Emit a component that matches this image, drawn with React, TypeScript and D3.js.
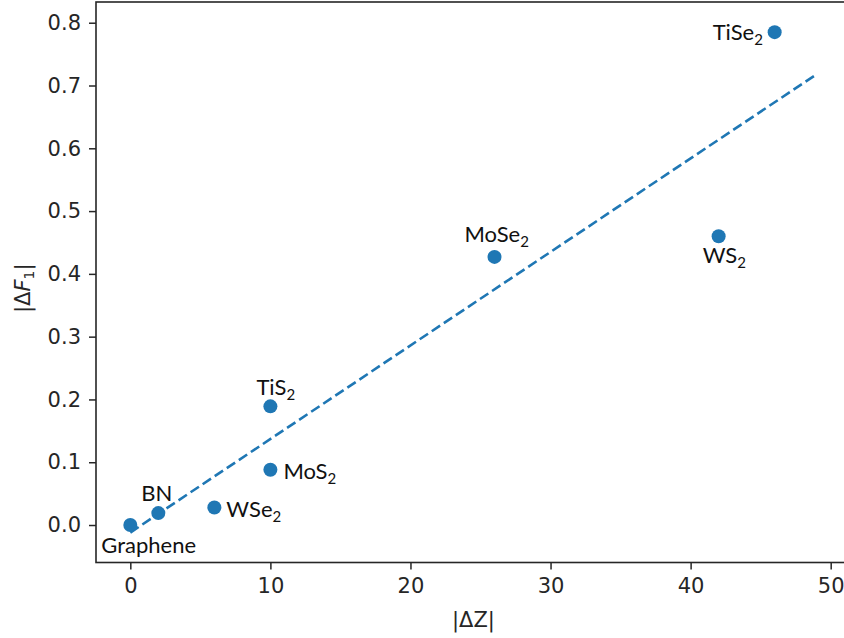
import React, { useEffect, useRef } from "react";
import * as d3 from "d3";

// Materials, |ΔZ| and |ΔF1|
const materials = ["Graphene", "BN", "WSe", "TiS", "MoS", "MoSe", "WS", "TiSe"];
const subscripts = ["", "", "2", "2", "2", "2", "2", "2"];
const deltaZ = [0, 2, 6, 10, 10, 26, 42, 46];
const deltaF1 = [0, 0.019, 0.028, 0.189, 0.088, 0.427, 0.46, 0.785];

// Dashed fit line end points
const fitX = [0, 49];
const fitY = [-0.012, 0.718];

const xTicks = [0, 10, 20, 30, 40, 50];
const yTicks = [0, 0.1, 0.2, 0.3, 0.4, 0.5, 0.6, 0.7, 0.8];

// label placement relative to each dot (px)
const labelOffsets: [number, number][] = [
  [-29, 28],
  [-17, -12],
  [12, 10],
  [-14, -11],
  [13, 9],
  [-30, -15],
  [-16, 27],
  [-62, 8],
];

const App = () => {
  const ref = useRef<SVGSVGElement>(null);

  useEffect(() => {
    const svg = d3.select(ref.current);
    svg.selectAll("*").remove();

    const left = 96,
      right = 851,
      top = 2,
      bottom = 562.5;

    const x = d3.scaleLinear().domain([-2.45, 51.45]).range([left, right]);
    const y = d3.scaleLinear().domain([-0.0597, 0.833]).range([bottom, top]);

    const color = "#1f77b4";
    const axisColor = "#262626";
    const tickFont = "DejaVu Sans, sans-serif";

    // frame
    svg
      .append("rect")
      .attr("x", left)
      .attr("y", top)
      .attr("width", right - left)
      .attr("height", bottom - top)
      .attr("fill", "none")
      .attr("stroke", axisColor)
      .attr("stroke-width", 1.6);

    // X axis
    const gx = svg
      .append("g")
      .attr("transform", `translate(0, ${bottom})`)
      .call(
        d3
          .axisBottom(x)
          .tickValues(xTicks)
          .tickFormat(d3.format("d"))
          .tickSizeOuter(0)
          .tickSize(7)
          .tickPadding(8.5)
      );
    gx.select(".domain").remove();
    gx.selectAll("line").attr("stroke", axisColor).attr("stroke-width", 1.5);
    gx.selectAll("text")
      .attr("fill", axisColor)
      .style("font-family", tickFont)
      .style("font-size", "21px");

    // Y axis
    const gy = svg
      .append("g")
      .attr("transform", `translate(${left}, 0)`)
      .call(
        d3
          .axisLeft(y)
          .tickValues(yTicks)
          .tickFormat(d3.format(".1f"))
          .tickSizeOuter(0)
          .tickSize(7)
          .tickPadding(8)
      );
    gy.select(".domain").remove();
    gy.selectAll("line").attr("stroke", axisColor).attr("stroke-width", 1.5);
    gy.selectAll("text")
      .attr("fill", axisColor)
      .style("font-family", tickFont)
      .style("font-size", "21px");

    // fit line
    const fit = fitX.map((v, i) => [v, fitY[i]] as [number, number]);
    svg
      .append("path")
      .datum(fit)
      .attr("d", d3.line<[number, number]>().x((d) => x(d[0])).y((d) => y(d[1])))
      .attr("fill", "none")
      .attr("stroke", color)
      .attr("stroke-width", 2.6)
      .attr("stroke-dasharray", "10,4.5");

    // points
    svg
      .selectAll("circle.pt")
      .data(deltaZ)
      .join("circle")
      .attr("class", "pt")
      .attr("cx", (d) => x(d))
      .attr("cy", (d, i) => y(deltaF1[i]))
      .attr("r", 7)
      .attr("fill", color);

    // labels
    const labels = svg
      .selectAll("text.lbl")
      .data(materials)
      .join("text")
      .attr("class", "lbl")
      .attr("x", (d, i) => x(deltaZ[i]) + labelOffsets[i][0])
      .attr("y", (d, i) => y(deltaF1[i]) + labelOffsets[i][1])
      .attr("fill", "#111")
      .style("font-family", "Lato, sans-serif")
      .style("font-size", "22px");
    labels.append("tspan").text((d) => d);
    labels
      .append("tspan")
      .attr("dy", 5)
      .style("font-size", "15px")
      .text((d, i) => subscripts[i]);

    // axis labels
    svg
      .append("text")
      .attr("x", (left + right) / 2)
      .attr("y", 627)
      .attr("text-anchor", "middle")
      .attr("fill", axisColor)
      .style("font-family", tickFont)
      .style("font-size", "21px")
      .text("|ΔZ|");

    const yl = svg
      .append("text")
      .attr("transform", `translate(30, ${(top + bottom) / 2 + 6}) rotate(-90)`)
      .attr("text-anchor", "middle")
      .attr("fill", axisColor)
      .style("font-family", tickFont)
      .style("font-size", "21px");
    yl.append("tspan").text("|Δ");
    yl.append("tspan").style("font-style", "italic").text("F");
    yl.append("tspan").attr("dy", 4).style("font-size", "14px").text("1");
    yl.append("tspan").attr("dy", -4).text("|");
  }, []);

  return (
    <svg
      ref={ref}
      width={844}
      height={638}
      style={{ position: "absolute", left: 0, top: 0, background: "#fff" }}
    ></svg>
  );
};

export default App;
